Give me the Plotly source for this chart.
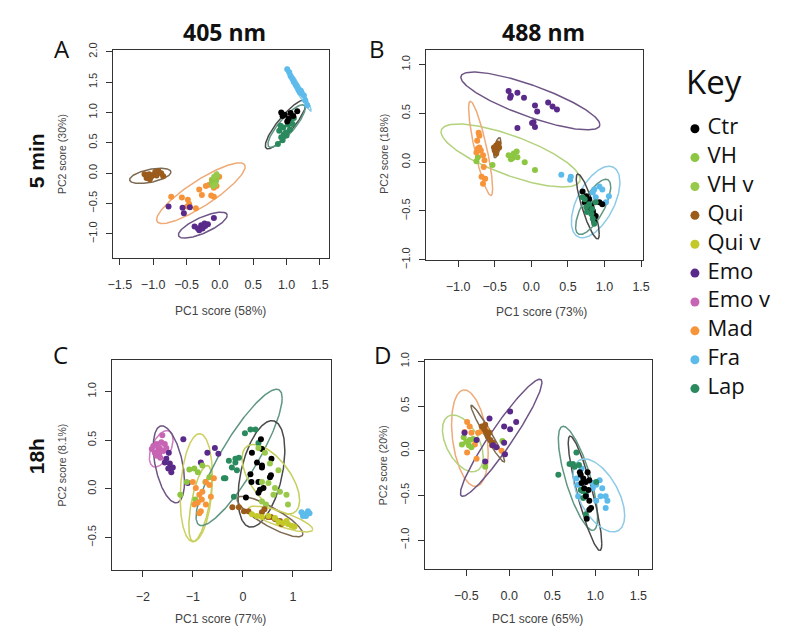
import numpy as np
import plotly.graph_objects as go

groups = ["Ctr", "VH", "VH v", "Qui", "Qui v", "Emo", "Emo v", "Mad", "Fra", "Lap"]
point_colors = {
    "Ctr": "#000000", "VH": "#8dc641", "VH v": "#98c94a", "Qui": "#9a5b1b",
    "Qui v": "#c3c928", "Emo": "#5a2a8a", "Emo v": "#c864b4", "Mad": "#f7943a",
    "Fra": "#5cbbeb", "Lap": "#2a8a5e",
}
ellipse_colors = {
    "Ctr": "#4a4a4a", "VH": "#b3d27c", "VH v": "#c2cf5a", "Qui": "#7c6a52",
    "Qui v": "#cdd060", "Emo": "#6e5585", "Emo v": "#cf7cc2", "Mad": "#eeaa78",
    "Fra": "#8ccbe8", "Lap": "#5f9684",
}

# ---------------- Panel A : 405 nm, 5 min ----------------
A_points = {
    "Lap": ([0.87, 0.92, 0.89, 0.95, 0.99, 1.02, 1.06, 1.11, 0.94, 1.00, 1.05, 1.09, 0.96, 0.91],
            [0.48, 0.59, 0.70, 0.75, 0.67, 0.80, 0.86, 0.91, 0.54, 0.62, 0.72, 0.81, 0.64, 0.78]),
    "Ctr": ([0.92, 0.97, 1.06, 1.16, 1.10, 1.01, 0.94, 1.03],
            [1.00, 0.96, 0.99, 1.02, 0.94, 0.85, 0.94, 0.90]),
    "Fra": ([1.01, 1.04, 1.06, 1.09, 1.11, 1.14, 1.16, 1.18, 1.21, 1.23, 1.26, 1.28, 1.31, 1.20, 1.22],
            [1.71, 1.66, 1.60, 1.55, 1.50, 1.45, 1.42, 1.37, 1.36, 1.31, 1.28, 1.20, 1.12, 1.33, 1.34]),
    "Qui": ([-1.13, -1.10, -1.08, -1.05, -1.03, -1.00, -0.97, -0.95, -0.92, -0.88, -0.85, -1.06],
            [-0.02, -0.08, -0.05, -0.10, -0.06, -0.03, 0.02, -0.04, 0.03, 0.00, -0.05, -0.02]),
    "Mad": ([-0.73, -0.57, -0.48, -0.46, -0.49, -0.36, -0.31, -0.27, -0.21, -0.16, -0.12, -0.09, -0.13, -0.09, -0.05, -0.01],
            [-0.39, -0.40, -0.44, -0.51, -0.55, -0.58, -0.27, -0.36, -0.21, -0.19, -0.11, -0.24, -0.37, -0.39, -0.21, -0.06]),
    "VH": ([-0.11, -0.06, -0.04, -0.12], [-0.11, -0.13, -0.05, -0.17]),
    "VH v": ([-0.085, -0.07, -0.05, -0.10], [-0.06, -0.19, -0.03, -0.21]),
    "Emo": ([-0.77, -0.56, -0.54, -0.45, -0.38, -0.33, -0.28, -0.26, -0.22, -0.18, -0.31, -0.09, -0.23],
            [-0.55, -0.57, -0.66, -0.56, -0.88, -0.91, -0.86, -0.91, -0.87, -0.84, -0.94, -0.74, -0.83]),
}
# (group, centre x, centre y, half-width, half-height, correlation)
A_ellipses = [
    ("Qui", -1.044, -0.045, 0.31, 0.125, 0.5),
    ("Mad", -0.285, -0.33, 0.664, 0.50, 0.87),
    ("VH", -0.073, -0.12, 0.06, 0.147, 0.5),
    ("Emo", -0.256, -0.856, 0.366, 0.214, 0.75),
    ("Ctr", 0.988, 0.802, 0.307, 0.401, 0.87),
    ("Lap", 1.0, 0.775, 0.28, 0.35, 0.85),
    ("Fra", 1.18, 1.38, 0.19, 0.36, -0.97),
]

# ---------------- Panel B : 488 nm, 5 min ----------------
B_points = {
    "Emo": ([-0.31, -0.28, -0.29, -0.19, -0.10, 0.05, 0.08, 0.03, 0.05, 0.01, -0.19, 0.23, 0.29, 0.35],
            [0.73, 0.68, 0.66, 0.71, 0.66, 0.58, 0.52, 0.41, 0.36, 0.40, 0.35, 0.61, 0.57, 0.54]),
    "VH": ([-0.31, -0.26, -0.28, -0.24, -0.20, -0.19, -0.09, 0.05, -0.53, -0.73, -0.75],
           [0.07, 0.04, 0.03, 0.09, 0.11, 0.05, 0.00, -0.08, -0.03, 0.05, 0.01]),
    "Mad": ([-0.72, -0.71, -0.74, -0.73, -0.69, -0.66, -0.64, -0.65, -0.68, -0.63, -0.66, -0.71, -0.75],
            [0.30, 0.27, 0.22, 0.14, 0.12, 0.07, 0.02, -0.05, -0.15, -0.17, -0.22, 0.15, 0.10]),
    "Qui": ([-0.48, -0.46, -0.50, -0.45, -0.48, -0.44, -0.51],
            [0.17, 0.14, 0.12, 0.19, 0.09, 0.15, 0.15]),
    "Fra": ([0.41, 0.53, 0.54, 0.93, 0.86, 1.06, 0.88, 0.79, 0.84, 1.02, 0.97],
            [-0.13, -0.18, -0.15, -0.25, -0.28, -0.35, -0.36, -0.41, -0.31, -0.41, -0.28]),
    "Ctr": ([0.70, 0.75, 0.79, 0.73, 0.82, 0.84, 0.88, 0.86, 0.77, 0.93, 0.97],
            [-0.30, -0.35, -0.38, -0.41, -0.45, -0.50, -0.55, -0.61, -0.48, -0.41, -0.43]),
    "Lap": ([0.73, 0.79, 0.76, 0.82, 0.84, 0.86, 0.75, 0.70, 0.88, 0.83],
            [-0.38, -0.43, -0.51, -0.53, -0.58, -0.63, -0.46, -0.36, -0.41, -0.48]),
}
B_ellipses = [
    ("Emo", -0.013, 0.627, 0.95, 0.296, -0.82),
    ("VH", -0.283, 0.068, 0.951, 0.323, -0.75),
    ("Mad", -0.693, 0.141, 0.164, 0.483, -0.85),
    ("Qui", -0.466, 0.148, 0.05, 0.103, 0.6),
    ("Fra", 0.879, -0.408, 0.332, 0.366, 0.55),
    ("Ctr", 0.771, -0.454, 0.157, 0.333, -0.85),
    ("Lap", 0.845, -0.458, 0.24, 0.283, 0.72),
]

# ---------------- Panel C : 405 nm, 18h ----------------
C_points = {
    "Emo v": ([-1.79, -1.72, -1.69, -1.66, -1.63, -1.61, -1.76, -1.67, -1.59, -1.53, -1.72, -1.82, -1.56, -1.65],
              [0.44, 0.46, 0.41, 0.42, 0.48, 0.55, 0.37, 0.36, 0.39, 0.42, 0.34, 0.41, 0.46, 0.32]),
    "Emo": ([-1.53, -1.46, -1.49, -1.43, -1.40, -1.48, -1.56, -1.19, -0.84, -0.71, -0.56, -0.49, -1.10],
            [0.31, 0.26, 0.21, 0.17, 0.22, 0.37, 0.27, 0.51, 0.27, 0.37, 0.42, 0.36, 0.06]),
    "VH": ([-1.07, -0.97, -0.81, -1.12, -0.90, -0.67, -0.75, -0.95, -1.25],
           [0.20, 0.21, 0.24, 0.07, 0.17, 0.12, 0.07, -0.11, -0.06]),
    "Mad": ([-1.00, -0.94, -0.87, -0.90, -0.84, -0.81, -0.74, -0.67, -0.58, -0.74, -0.82, -0.97, -0.87, -0.64],
            [0.07, 0.01, -0.06, -0.14, -0.23, -0.03, 0.07, 0.04, 0.11, -0.16, -0.11, -0.16, -0.25, -0.08]),
    "Lap": ([-0.28, -0.22, -0.15, -0.08, -0.12, 0.04, 0.15, 0.25, -0.18, -0.38, -0.35, -0.15, 0.31],
            [0.29, 0.22, 0.27, 0.32, 0.19, 0.57, 0.61, 0.61, -0.08, 0.11, 0.11, 0.31, 0.47]),
    "Ctr": ([0.18, 0.36, 0.38, 0.38, 0.57, 0.54, 0.56, 0.15, 0.17, 0.31, 0.34, 0.41, 0.31, 0.06, 0.38, 0.28],
            [0.37, 0.51, 0.41, 0.24, 0.31, 0.12, 0.14, 0.15, 0.07, 0.07, -0.01, 0.01, -0.04, -0.09, 0.22, 0.27]),
    "VH v": ([0.31, 0.44, 0.54, 0.38, 0.51, 0.64, 0.71, 0.87, 0.90, 0.61, 0.46, 0.38, 0.74],
             [0.42, 0.37, 0.26, 0.07, 0.06, 0.01, 0.19, -0.06, -0.16, -0.06, -0.16, -0.13, -0.03]),
    "Qui": ([-0.21, -0.08, 0.02, 0.11, 0.38, 0.50, 0.56, 0.64, 0.74, 0.43, 0.77],
            [-0.19, -0.19, -0.23, -0.23, -0.24, -0.29, -0.29, -0.31, -0.33, -0.21, -0.36]),
    "Qui v": ([0.18, 0.28, 0.38, 0.51, 0.64, 0.71, 0.80, 0.90, 0.97, 1.03, 0.87],
              [-0.26, -0.28, -0.29, -0.28, -0.30, -0.34, -0.35, -0.36, -0.38, -0.39, -0.33]),
    "Fra": ([1.17, 1.23, 1.30, 1.26, 1.33, 1.20], [-0.24, -0.26, -0.23, -0.28, -0.25, -0.28]),
}
C_ellipses = [
    ("Emo v", -1.632, 0.412, 0.236, 0.188, 0.5),
    ("Emo", -1.478, 0.252, 0.312, 0.395, -0.45),
    ("Qui v", -0.93, 0.012, 0.322, 0.555, 0.2),
    ("VH v", -0.85, -0.15, 0.23, 0.39, 0.6),
    ("Lap", -0.076, 0.323, 0.86, 0.70, 0.87),
    ("Ctr", 0.37, 0.153, 0.467, 0.547, 0.44),
    ("VH v", 0.557, 0.098, 0.575, 0.358, -0.6),
    ("Qui", 0.541, -0.285, 0.657, 0.208, -0.85),
    ("Qui v", 0.755, -0.31, 0.64, 0.133, -0.8),
]

# ---------------- Panel D : 488 nm, 18h ----------------
D_points = {
    "Mad": ([-0.49, -0.46, -0.52, -0.44, -0.36, -0.32, -0.27, -0.38, -0.49, -0.09, -0.15, -0.40],
            [0.32, 0.27, 0.21, 0.20, 0.20, 0.22, 0.24, -0.09, -0.02, 0.00, 0.04, 0.07]),
    "VH": ([-0.53, -0.50, -0.47, -0.44, -0.55, -0.28, -0.42, -0.08, -0.46],
           [0.15, 0.10, 0.06, 0.04, 0.07, -0.18, 0.13, 0.11, 0.12]),
    "Qui": ([-0.32, -0.29, -0.27, -0.25, -0.22, -0.19, -0.28, -0.23, -0.20],
            [0.27, 0.24, 0.21, 0.16, 0.12, 0.09, 0.29, 0.20, 0.06]),
    "Emo": ([-0.52, -0.38, -0.23, -0.28, -0.19, -0.15, -0.06, 0.01, 0.01, 0.08, -0.05, -0.06],
            [0.20, 0.12, 0.36, -0.12, 0.06, 0.04, 0.27, 0.44, 0.24, 0.32, -0.04, 0.09]),
    "Fra": ([0.78, 0.80, 0.84, 0.97, 1.01, 1.05, 1.08, 1.12, 1.14, 1.06, 1.01, 1.12, 0.97, 0.80],
            [-0.31, -0.38, -0.20, -0.42, -0.38, -0.33, -0.42, -0.51, -0.56, -0.51, -0.56, -0.64, -0.36, -0.51]),
    "Lap": ([0.57, 0.70, 0.78, 0.76, 0.81, 0.85, 0.89, 0.86, 1.01, 0.89, 0.83, 0.74],
            [-0.27, -0.15, -0.02, -0.18, -0.16, -0.45, -0.49, -0.53, -0.35, -0.71, -0.44, -0.15]),
    "Ctr": ([0.83, 0.86, 0.89, 0.91, 0.93, 0.84, 0.87, 0.92, 0.89, 0.93, 0.95, 0.90, 0.82, 0.93],
            [-0.27, -0.31, -0.35, -0.24, -0.33, -0.36, -0.42, -0.44, -0.51, -0.56, -0.64, -0.76, -0.24, -0.66]),
}
D_ellipses = [
    ("Mad", -0.458, 0.14, 0.213, 0.54, -0.3),
    ("VH", -0.54, 0.082, 0.237, 0.318, -0.48),
    ("Emo", -0.094, 0.145, 0.474, 0.655, 0.945),
    ("Qui", -0.25, 0.191, 0.195, 0.318, -0.97),
    ("Lap", 0.798, -0.309, 0.228, 0.582, -0.75),
    ("Ctr", 0.88, -0.476, 0.195, 0.64, -0.88),
    ("Fra", 1.041, -0.50, 0.30, 0.409, -0.55),
]

# axis tick values and titles
A_xticks = [-1.5, -1.0, -0.5, 0.0, 0.5, 1.0, 1.5]
A_yticks = [-1.0, -0.5, 0.0, 0.5, 1.0, 1.5, 2.0]
B_xticks = [-1.0, -0.5, 0.0, 0.5, 1.0, 1.5]
B_yticks = [-1.0, -0.5, 0.0, 0.5, 1.0]
C_xticks = [-2, -1, 0, 1]
C_yticks = [-0.5, 0.0, 0.5, 1.0]
D_xticks = [-0.5, 0.0, 0.5, 1.0, 1.5]
D_yticks = [-1.0, -0.5, 0.0, 0.5, 1.0]
x_titles = ["PC1 score (58%)", "PC1 score (73%)", "PC1 score (77%)", "PC1 score (65%)"]
y_titles = ["PC2 score (30%)", "PC2 score (18%)", "PC2 score (8.1%)", "PC2 score (20%)"]
column_titles = ["405 nm", "488 nm"]
row_titles = ["5 min", "18h"]
panel_letters = ["A", "B", "C", "D"]

W, H = 786, 639


def px(v):
    return v / W


def py(v):
    return 1 - v / H


fig = go.Figure()

panels = [
    ("x", "y", A_points, A_ellipses),
    ("x2", "y2", B_points, B_ellipses),
    ("x3", "y3", C_points, C_ellipses),
    ("x4", "y4", D_points, D_ellipses),
]
t = np.linspace(0, 2 * np.pi, 241)
for xa, ya, pts, ells in panels:
    for g, cx, cy, hx, hy, rho in ells:
        ex = cx + hx * np.cos(t)
        ey = cy + hy * (rho * np.cos(t) + np.sqrt(1 - rho ** 2) * np.sin(t))
        fig.add_trace(go.Scatter(x=ex, y=ey, mode="lines", xaxis=xa, yaxis=ya,
                                 line=dict(color=ellipse_colors[g], width=1.5),
                                 showlegend=False, hoverinfo="skip"))
    for g, (xs, ys) in pts.items():
        fig.add_trace(go.Scatter(x=xs, y=ys, mode="markers", xaxis=xa, yaxis=ya, name=g,
                                 marker=dict(color=point_colors[g], size=6),
                                 showlegend=False))

# Key (legend) drawn on its own axis
fig.add_trace(go.Scatter(x=[0] * len(groups), y=list(range(len(groups))), mode="markers",
                         xaxis="x5", yaxis="y5",
                         marker=dict(color=[point_colors[g] for g in groups], size=9),
                         showlegend=False, hoverinfo="skip"))
fig.add_trace(go.Scatter(x=[0.45] * len(groups), y=list(range(len(groups))), mode="text",
                         xaxis="x5", yaxis="y5", text=groups, textposition="middle right",
                         textfont=dict(family="Open Sans", size=22, color="#111"),
                         showlegend=False, hoverinfo="skip"))

tick_font_x = dict(family="Liberation Sans", size=12.5, color="#333")
tick_font_y = dict(family="Liberation Sans", size=11, color="#333")


def axis(domain, rng, ticks, anchor, is_y=False, fmt=".1f"):
    d = dict(domain=domain, range=rng, tickvals=ticks, tickformat=fmt, anchor=anchor,
             showgrid=False, zeroline=False, showline=True, mirror=True,
             linecolor="#333", linewidth=1, ticks="outside", ticklen=6,
             tickcolor="#333", tickfont=tick_font_y if is_y else tick_font_x,
             ticklabelstandoff=5 if is_y else 9)
    if is_y:
        d["tickangle"] = -90
    return d


layout = dict(
    width=W, height=H, margin=dict(l=0, r=0, t=0, b=0),
    paper_bgcolor="white", plot_bgcolor="white", showlegend=False,
    xaxis=axis([px(109), px(328)], [-1.60, 1.63], A_xticks, "y"),
    yaxis=axis([py(257), py(43)], [-1.40, 2.03], A_yticks, "x", True),
    xaxis2=axis([px(427), px(648)], [-1.44, 1.53], B_xticks, "y2"),
    yaxis2=axis([py(259), py(43)], [-1.003, 1.15], B_yticks, "x2", True),
    xaxis3=axis([px(108), px(330)], [-2.61, 1.75], C_xticks, "y3", fmt="d"),
    yaxis3=axis([py(577), py(362)], [-0.83, 1.32], C_yticks, "x3", True),
    xaxis4=axis([px(426), px(657)], [-0.98, 1.66], D_xticks, "y4"),
    yaxis4=axis([py(576), py(362)], [-1.32, 1.011], D_yticks, "x4", True),
    xaxis5=dict(domain=[px(672), 1.0], range=[-1.0, 3.0], visible=False, fixedrange=True),
    yaxis5=dict(domain=[0, 1], range=[17.36, -4.18], visible=False, fixedrange=True, anchor="x5"),
)

ann = []


def note(x, y, text, font, angle=0, xanchor="center"):
    ann.append(dict(x=px(x), y=py(y), xref="paper", yref="paper", text=text, showarrow=False,
                    xanchor=xanchor, yanchor="middle", textangle=angle, font=font))


# axis titles
xt_pos = [(218, 311), (545, 312), (218, 628), (540, 628)]
yt_pos = [(57, 150), (384, 150), (57, 470), (384, 470)]
for (x, y), s in zip(xt_pos, x_titles):
    note(x, y, s, dict(family="Liberation Sans", size=12, color="#444"))
for (x, y), s in zip(yt_pos, y_titles):
    note(x, y, s, dict(family="Liberation Sans", size=10.5, color="#444"), angle=-90)
# column titles
for x, s in zip([222, 547], column_titles):
    note(x, 25, "<b>%s</b>" % s, dict(family="Open Sans", size=23, color="#111"))
# row titles
for y, s in zip([157, 460], row_titles):
    note(31, y, "<b>%s</b>" % s, dict(family="Liberation Sans", size=21, color="#111"), angle=-90)
# panel letters
for (x, y), s in zip([(57, 42), (377, 42), (55, 356), (383, 356)], panel_letters):
    note(x, y, s, dict(family="Open Sans", size=24, color="#111"))
# Key title
note(689, 76, "Key", dict(family="Open Sans", size=33, color="#111"), xanchor="left")
layout["annotations"] = ann

fig.update_layout(**layout)
fig.write_html("out.html", config={"displayModeBar": False},
               post_script="document.body.style.margin='0';document.body.style.overflow='hidden';")
